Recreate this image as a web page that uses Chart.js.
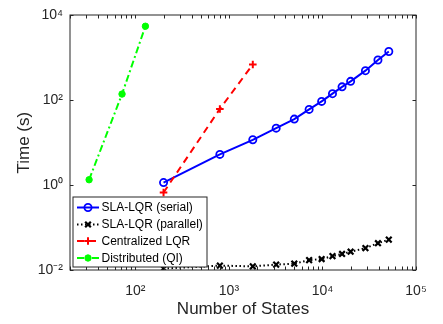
<!DOCTYPE html>
<html>
<head>
<meta charset="utf-8">
<script src="https://cdn.jsdelivr.net/npm/chart.js@4/dist/chart.umd.min.js"></script>
<style>
html,body{margin:0;padding:0;background:#fff;}
#wrap{width:443px;height:324px;position:relative;}
</style>
</head>
<body>
<div id="wrap"><canvas id="c" width="443" height="324"></canvas></div>
<script>
// ---- data ----
const statesSerial   = [200, 800, 1800, 3200, 5000, 7200, 9800, 12800, 16200, 20000, 28800, 39200, 51200];
const timeSerial     = [1.15, 5.3, 11.7, 22, 36, 61, 94, 143, 207, 279, 498, 890, 1410];
const statesParallel = [200, 800, 1800, 3200, 5000, 7200, 9800, 12800, 16200, 20000, 28800, 39200, 51200];
const timeParallel   = [0.0108, 0.0127, 0.0122, 0.0134, 0.0141, 0.0171, 0.0181, 0.0212, 0.0239, 0.027, 0.0328, 0.0428, 0.052];
const statesCentral  = [200, 800, 1800];
const timeCentral    = [0.67, 62.5, 698];
const statesDist     = [32, 72, 128];
const timeDist       = [1.34, 140, 5560];

const seriesNames = ['SLA-LQR (serial)', 'SLA-LQR (parallel)', 'Centralized LQR', 'Distributed (QI)'];

const xTickValues = [100, 1000, 10000, 100000];
const xTickLabels = ['10²', '10³', '10⁴', '10⁵'];
const yTickValues = [0.01, 1, 100, 10000];
const yTickLabels = ['10⁻²', '10⁰', '10²', '10⁴'];
const xTitle = 'Number of States';
const yTitle = 'Time (s)';

// ---- build ----
function pts(xs, ys) { return xs.map((x, i) => ({x: x, y: ys[i]})); }

const FONT = "'Liberation Sans', Arial, Helvetica, sans-serif";
const AXIS = '#262626';

const datasets = [
  {label: seriesNames[0], data: pts(statesSerial, timeSerial), borderColor: '#0000ff', borderWidth: 2,
   pointStyle: 'circle', pointRadius: 3.6, pointBorderWidth: 1.8, pointBorderColor: '#0000ff',
   pointBackgroundColor: 'rgba(0,0,0,0)', borderDash: [], order: 4},
  {label: seriesNames[1], data: pts(statesParallel, timeParallel), borderColor: '#000000', borderWidth: 2,
   pointStyle: 'crossRot', pointRadius: 4, pointBorderWidth: 2.2, pointBorderColor: '#000000',
   pointBackgroundColor: '#000000', borderDash: [1.5, 2.5], order: 3},
  {label: seriesNames[2], data: pts(statesCentral, timeCentral), borderColor: '#ff0000', borderWidth: 2,
   pointStyle: 'cross', pointRadius: 3.8, pointBorderWidth: 2, pointBorderColor: '#ff0000',
   pointBackgroundColor: '#ff0000', borderDash: [7, 5], order: 2},
  {label: seriesNames[3], data: pts(statesDist, timeDist), borderColor: '#00ff00', borderWidth: 2,
   pointStyle: 'circle', pointRadius: 3.2, pointBorderWidth: 1, pointBorderColor: '#00ff00',
   pointBackgroundColor: '#00ff00', borderDash: [7, 3, 2, 3], order: 1}
];

const framePlugin = {
  id: 'frame',
  afterDatasetsDraw(chart) {
    const ctx = chart.ctx, a = chart.chartArea;
    const xs = chart.scales.x, ys = chart.scales.y;
    const L = Math.round(a.left), R = Math.round(a.right), T = Math.round(a.top), B = Math.round(a.bottom);
    ctx.save();
    ctx.strokeStyle = AXIS;
    ctx.lineWidth = 1;
    ctx.strokeRect(L, T, R - L, B - T);
    const tl = 3.5;
    ctx.beginPath();
    for (let k = 1; k <= 5; k++) {
      for (let n = 1; n <= 9; n++) {
        const v = n * Math.pow(10, k);
        if (v < xs.min - 1e-9 || v > xs.max + 1e-9) continue;
        const px = Math.round(xs.getPixelForValue(v)) + 0.5;
        ctx.moveTo(px, B); ctx.lineTo(px, B - tl);
        ctx.moveTo(px, T); ctx.lineTo(px, T + tl);
      }
    }
    yTickValues.forEach(v => {
      const py = Math.round(ys.getPixelForValue(v)) + 0.5;
      ctx.moveTo(L, py); ctx.lineTo(L + tl, py);
      ctx.moveTo(R, py); ctx.lineTo(R - tl, py);
    });
    ctx.stroke();
    ctx.restore();
  },
  afterDraw(chart) {
    const ctx = chart.ctx;
    const bx = 73, by = 197, bw = 134, bh = 70;
    ctx.save();
    ctx.fillStyle = '#ffffff';
    ctx.fillRect(bx, by, bw, bh);
    ctx.strokeStyle = AXIS;
    ctx.lineWidth = 1;
    ctx.strokeRect(bx, by, bw, bh);
    const rowY = [207.5, 224.5, 241, 258];
    chart.data.datasets.forEach((ds, i) => {
      const y = rowY[i];
      ctx.save();
      ctx.strokeStyle = ds.borderColor;
      ctx.lineWidth = ds.borderWidth;
      ctx.setLineDash(ds.borderDash || []);
      ctx.beginPath();
      ctx.moveTo(77, y); ctx.lineTo(99, y);
      ctx.stroke();
      ctx.setLineDash([]);
      ctx.restore();
      ctx.save();
      ctx.strokeStyle = ds.pointBorderColor;
      ctx.fillStyle = ds.pointBackgroundColor;
      ctx.lineWidth = ds.pointBorderWidth;
      Chart.helpers.drawPoint(ctx, {pointStyle: ds.pointStyle, radius: ds.pointRadius, rotation: 0, borderWidth: ds.pointBorderWidth}, 88, y);
      ctx.restore();
      ctx.fillStyle = '#000000';
      ctx.font = '12px ' + FONT;
      ctx.textBaseline = 'middle';
      ctx.textAlign = 'left';
      ctx.fillText(ds.label, 101.5, y + 0.5);
    });
    ctx.restore();
  }
};

new Chart(document.getElementById('c'), {
  type: 'line',
  data: {datasets: datasets},
  options: {
    responsive: false,
    animation: false,
    devicePixelRatio: 1,
    layout: {padding: {left: 0, right: 27, top: 8, bottom: 0}},
    plugins: {legend: {display: false}, tooltip: {enabled: false}},
    elements: {line: {tension: 0, fill: false}},
    scales: {
      x: {
        type: 'logarithmic', position: 'bottom', min: 20, max: 100000,
        grid: {display: false, drawTicks: false},
        border: {display: false},
        afterBuildTicks(s) { s.ticks = xTickValues.map(v => ({value: v})); },
        afterFit(s) { s.height = 54; },
        ticks: {
          autoSkip: false, maxRotation: 0, padding: 13, color: AXIS,
          font: {family: FONT, size: 14},
          callback(v) { const i = xTickValues.indexOf(v); return i >= 0 ? xTickLabels[i] : ''; }
        },
        title: {display: true, text: xTitle, color: AXIS, font: {family: FONT, size: 17}, padding: {top: 0, bottom: 4}}
      },
      y: {
        type: 'logarithmic', position: 'left', min: 0.01, max: 10000,
        grid: {display: false, drawTicks: false},
        border: {display: false},
        afterBuildTicks(s) { s.ticks = yTickValues.map(v => ({value: v})); },
        afterFit(s) { s.width = 70; },
        ticks: {
          autoSkip: false, padding: 7, color: AXIS,
          font: {family: FONT, size: 14},
          callback(v) { const i = yTickValues.indexOf(v); return i >= 0 ? yTickLabels[i] : ''; }
        },
        title: {display: true, text: yTitle, color: AXIS, font: {family: FONT, size: 17}, padding: {top: 14, bottom: 0}}
      }
    }
  },
  plugins: [framePlugin]
});
</script>
</body>
</html>
